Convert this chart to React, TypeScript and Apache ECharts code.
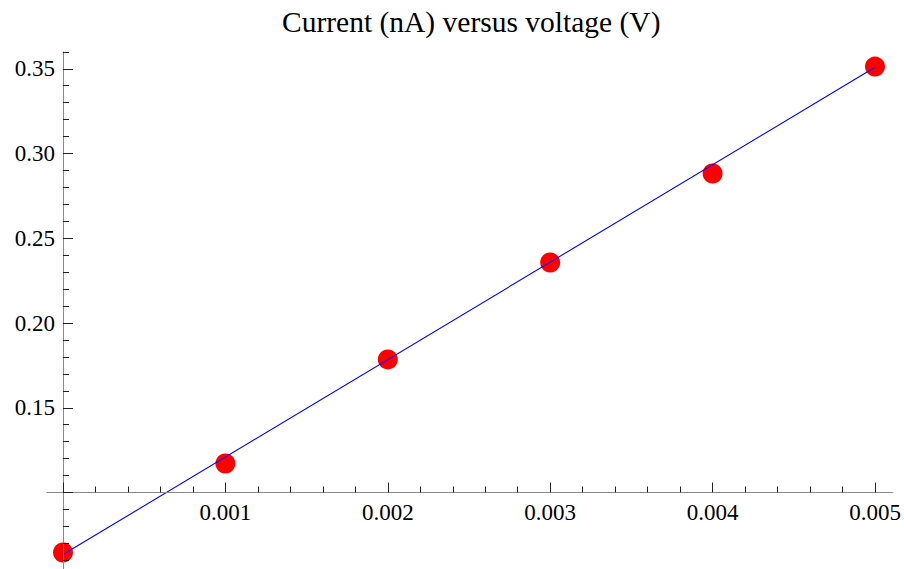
import React, { useEffect, useRef } from "react";
import * as echarts from "echarts";

// Data
const voltage = [0, 0.001, 0.002, 0.003, 0.004, 0.005];
const current = [0.0646, 0.1171, 0.1785, 0.2357, 0.2882, 0.3513];
const fitVoltage = [0, 0.005];
const fitCurrent = [0.0634, 0.3509];
const titleText = "Current (nA) versus voltage (V)";

// Layout
const W = 904;
const H = 569;
const HC = 610; // chart canvas height (clipped to H)
const X0PX = 63; // pixel of V = 0
const XSCALE = 812 / 0.005; // px per volt
const YREF = 0.1; // y at which x axis crosses
const YREFPX = 492.5;
const YSCALE = 1695; // px per nA
const X_MIN = -0.0001;
const X_MAX = 0.00511;
const Y_MIN = 0.05;
const Y_MAX = 0.36;
const FONT = "Liberation Serif";
const AXIS_COLOR = "#8a8a8a";
const TICK_COLOR = "#222";

const xPx = (v: number) => X0PX + v * XSCALE;
const yPx = (v: number) => YREFPX - (v - YREF) * YSCALE;

export default function App() {
  const ref = useRef<HTMLDivElement>(null);
  useEffect(() => {
    if (!ref.current) return;
    const chart = echarts.init(ref.current, undefined, { renderer: "svg" });
    const dataGrid = {
      left: xPx(X_MIN),
      right: W - xPx(X_MAX),
      top: yPx(Y_MAX),
      bottom: HC - yPx(Y_MIN),
    };
    const xTickGrid = { left: xPx(0), right: W - xPx(0.005), top: 10, bottom: HC - YREFPX };
    const xLineGrid = { left: xPx(X_MIN), right: W - xPx(X_MAX), top: 10, bottom: HC - YREFPX };
    const yTickGrid = { left: xPx(0), right: W - xPx(0.005), top: yPx(0.35), bottom: HC - yPx(Y_MIN) };

    const hidden = { show: false };
    chart.setOption({
      animation: false,
      title: {
        text: titleText,
        left: 277,
        top: 2,
        textStyle: { fontFamily: FONT, fontSize: 29.5, fontWeight: "normal", color: "#000" },
      },
      grid: [dataGrid, xTickGrid, xLineGrid, yTickGrid],
      xAxis: [
        { gridIndex: 0, type: "value", min: X_MIN, max: X_MAX, show: false },
        {
          gridIndex: 1,
          type: "value",
          min: 0,
          max: 0.005,
          interval: 0.001,
          axisLine: { show: false },
          axisTick: { show: true, inside: true, length: 10, lineStyle: { color: TICK_COLOR, width: 1 } },
          minorTick: { show: true, splitNumber: 5, length: 6, lineStyle: { color: TICK_COLOR, width: 1 } },
          splitLine: hidden,
          minorSplitLine: hidden,
          axisLabel: {
            margin: 8,
            fontFamily: FONT,
            fontSize: 23,
            color: "#000",
            formatter: (v: number) => (v < 0.0005 ? "" : v.toFixed(3)),
          },
          z: 5,
        },
        {
          gridIndex: 2,
          type: "value",
          min: X_MIN,
          max: X_MAX,
          axisLine: { show: true, onZero: false, lineStyle: { color: AXIS_COLOR, width: 1 } },
          axisTick: hidden,
          axisLabel: hidden,
          splitLine: hidden,
          z: 4,
        },
        { gridIndex: 3, type: "value", min: 0, max: 0.005, show: false },
      ],
      yAxis: [
        {
          gridIndex: 0,
          type: "value",
          min: Y_MIN,
          max: Y_MAX,
          interval: 0.01,
          axisLine: { show: true, onZero: true, lineStyle: { color: AXIS_COLOR, width: 1 } },
          axisTick: { show: true, inside: true, length: 6, lineStyle: { color: TICK_COLOR, width: 1 } },
          axisLabel: hidden,
          splitLine: hidden,
          z: 4,
        },
        { gridIndex: 1, type: "value", min: 0, max: 1, show: false },
        { gridIndex: 2, type: "value", min: 0, max: 1, show: false },
        {
          gridIndex: 3,
          type: "value",
          min: Y_MIN,
          max: 0.35,
          interval: 0.05,
          axisLine: { show: false },
          axisTick: { show: true, inside: true, length: 10, lineStyle: { color: TICK_COLOR, width: 1 } },
          splitLine: hidden,
          axisLabel: {
            margin: 8,
            fontFamily: FONT,
            fontSize: 23,
            color: "#000",
            formatter: (v: number) => (v < 0.12 ? "" : v.toFixed(2)),
          },
          z: 5,
        },
      ],
      series: [
        {
          type: "scatter",
          xAxisIndex: 0,
          yAxisIndex: 0,
          data: voltage.map((v, i) => [v, current[i]]),
          symbol: "circle",
          symbolSize: 20,
          itemStyle: { color: "#ff0000", opacity: 1 },
          z: 2,
        },
        {
          type: "line",
          xAxisIndex: 0,
          yAxisIndex: 0,
          data: fitVoltage.map((v, i) => [v, fitCurrent[i]]),
          showSymbol: false,
          symbol: "none",
          lineStyle: { color: "#0000ff", width: 1.1 },
          z: 3,
        },
      ],
    });
    return () => chart.dispose();
  }, []);
  return (
    <div
      style={{
        position: "absolute",
        left: 0,
        top: 0,
        width: W,
        height: H,
        overflow: "hidden",
        background: "#fff",
      }}
    >
      <div ref={ref} style={{ width: W, height: HC }} />
    </div>
  );
}
